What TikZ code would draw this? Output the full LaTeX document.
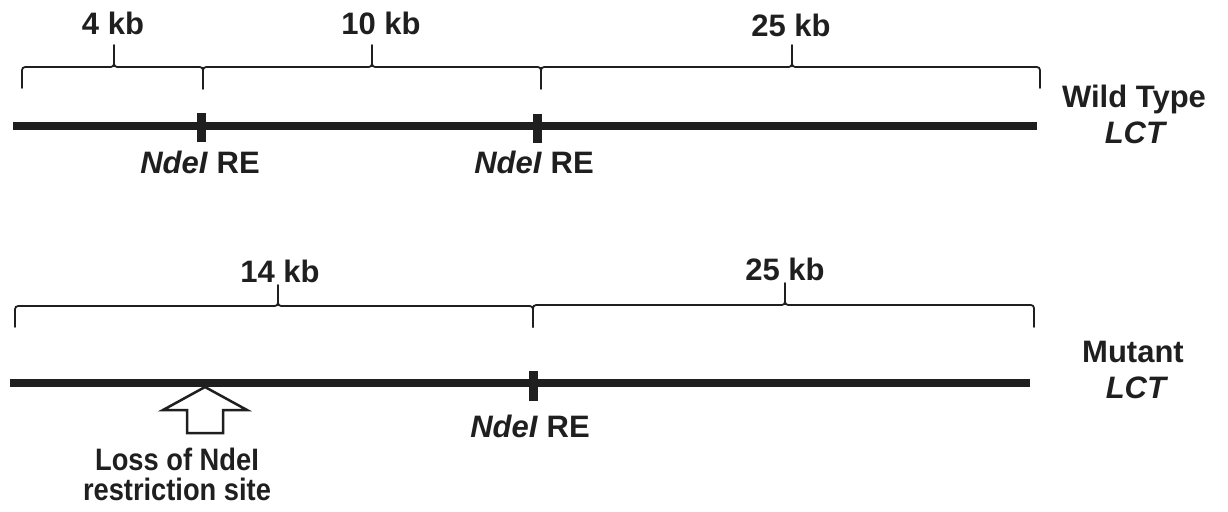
\documentclass[tikz,border=0pt]{standalone}
\usepackage{fontspec}
\setmainfont{Liberation Sans}
\newcommand\mybrace[6]{%
  \draw[brc] (#1,#4) -- (#1,#5+7) .. controls (#1,#5) .. (#1+7,#5) -- (#2-7,#5)
    .. controls (#2,#5) .. (#2,#5-7) -- (#2,#6);
  \draw[brc] (#2,#5-7) .. controls (#2,#5) .. (#2+7,#5) -- (#3-7,#5)
    .. controls (#3,#5) .. (#3,#5+7) -- (#3,#4);}
\newcommand\narrowtxt[1]{\scalebox{0.88}[1]{#1}}
\begin{document}
\begin{tikzpicture}[x=1pt,y=-1pt,
  lbl/.style={font=\fontsize{31}{35}\selectfont\bfseries, inner sep=0pt, anchor=base, text=black!88},
  dna/.style={line width=8pt, draw=black!88},
  site/.style={line width=9pt, draw=black!88},
  brc/.style={line width=1.8pt, draw=black!88, line cap=round}]
\useasboundingbox (0,0) rectangle (1228,511);
% Wild type
\draw[dna] (13,126) -- (1037,126);
\draw[site] (201,113) -- (201,142);
\draw[site] (537,114) -- (537,143);
\mybrace{22}{114}{203}{88}{67}{45}
\mybrace{203}{372}{541}{89}{67}{45}
\mybrace{541}{792}{1040}{88}{67}{45}
\node[lbl] (wa) at (113,35) {4 kb};
\node[lbl] (wb) at (381,35) {10 kb};
\node[lbl] (wc) at (791,37) {25 kb};
\node[lbl] (wr1) at (200,173) {\textit{NdeI} RE};
\node[lbl] (wr2) at (534,173) {\textit{NdeI} RE};
\node[lbl] (wt1) at (1134,107) {Wild Type};
\node[lbl] (wt2) at (1136,143) {\textit{LCT}};
% Mutant
\draw[dna] (10,383) -- (1030,383);
\draw[site] (533,371) -- (533,401);
\mybrace{15}{278}{533}{327}{306}{285}
\mybrace{533}{785}{1034}{327}{305}{283}
\node[lbl] (ma) at (280,282) {14 kb};
\node[lbl] (mb) at (785,280) {25 kb};
\node[lbl] (mr) at (530,437) {\textit{NdeI} RE};
\node[lbl] (mt1) at (1133,362) {Mutant};
\node[lbl] (mt2) at (1137,398) {\textit{LCT}};
\draw[line width=2.5pt, draw=black!88, fill=white, line join=miter]
  (205,387) -- (247,410) -- (223,410) -- (223,433) -- (187,433) -- (187,410) -- (163,410) -- cycle;
\node[lbl] (ls1) at (177,470) {\narrowtxt{Loss of NdeI}};
\node[lbl] (ls2) at (177,500) {\narrowtxt{restriction site}};
\end{tikzpicture}
\end{document}
